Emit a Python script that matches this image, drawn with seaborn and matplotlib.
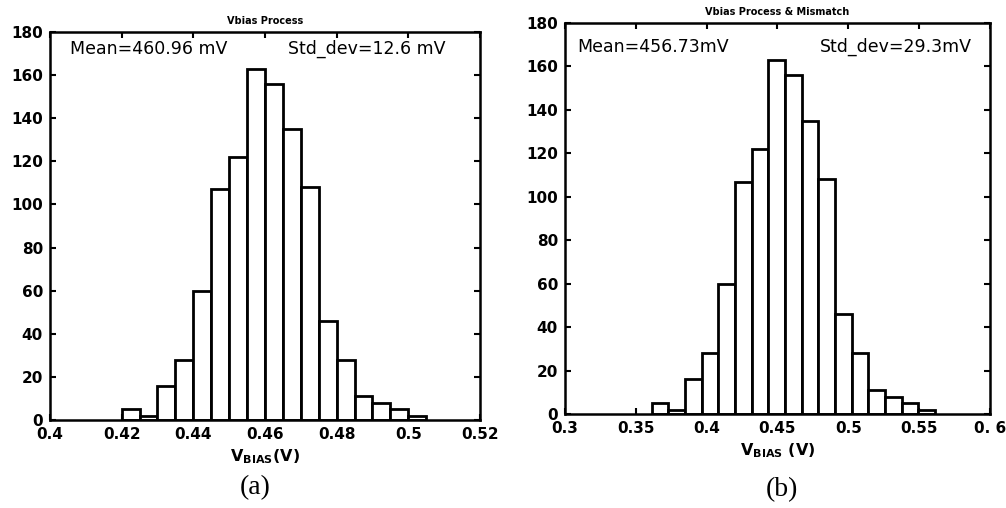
import numpy as np
import pandas as pd
import matplotlib
matplotlib.use("Agg")
import matplotlib.pyplot as plt
import seaborn as sns

# ---- data ----
counts_a = [5, 2, 16, 28, 60, 107, 122, 163, 156, 135, 108, 46, 28, 11, 8, 5, 2]
bin_start_a = 0.420
bin_width_a = 0.005

counts_b = [5, 2, 16, 28, 60, 107, 122, 163, 156, 135, 108, 46, 28, 11, 8, 5, 2]
bin_start_b = 0.3612
bin_width_b = 0.2 / 17

xticks_a = [0.4, 0.42, 0.44, 0.46, 0.48, 0.5, 0.52]
xticklabels_a = ["0.4", "0.42", "0.44", "0.46", "0.48", "0.5", "0.52"]
xticks_b = [0.3, 0.35, 0.4, 0.45, 0.5, 0.55, 0.6]
xticklabels_b = ["0.3", "0.35", "0.4", "0.45", "0.5", "0.55", "0. 6"]
yticks = [0, 20, 40, 60, 80, 100, 120, 140, 160, 180]

title_a = "Vbias Process"
title_b = "Vbias Process & Mismatch"
mean_a = "Mean=460.96 mV"
std_a = "Std_dev=12.6 mV"
mean_b = "Mean=456.73mV"
std_b = "Std_dev=29.3mV"
xlabel_a = r"V$_{\mathrm{BIAS}}$(V)"
xlabel_b = r"V$_{\mathrm{BIAS}}$ (V)"

sns.set_theme(style="white")
plt.rcParams["font.family"] = ["DejaVu Sans"]
plt.rcParams["mathtext.fontset"] = "custom"
plt.rcParams["mathtext.rm"] = "DejaVu Sans:bold"
plt.rcParams["text.color"] = "black"

fig = plt.figure(figsize=(10.06, 5.08), dpi=100)
ax_a = fig.add_axes([0.0497, 0.1732, 0.4274, 0.7638])
ax_b = fig.add_axes([0.5616, 0.185, 0.4225, 0.7697])


def draw(ax, counts, start, width, xlim, xticks, xticklabels, title, mean_t, std_t,
         mean_x, std_x, text_y, xlabel, label_x, label_y, panel):
    n = len(counts)
    edges = [start + width * i for i in range(n + 1)]
    centers = [(edges[i] + edges[i + 1]) / 2 for i in range(n)]
    df = pd.DataFrame({"v": centers, "c": counts})
    sns.histplot(data=df, x="v", weights="c", bins=edges, ax=ax,
                 color="white", edgecolor="black", linewidth=2.0, alpha=1.0)
    ax.set_xlim(*xlim)
    ax.set_ylim(0, 180)
    ax.set_xticks(xticks)
    ax.set_xticklabels(xticklabels)
    ax.set_yticks(yticks)
    ax.tick_params(direction="in", length=4, width=1.5, top=True, right=True,
                   bottom=True, left=True, labelsize=11, colors="black")
    ax.tick_params(axis="x", pad=5)
    ax.tick_params(axis="y", pad=5)
    for lab in ax.get_xticklabels() + ax.get_yticklabels():
        lab.set_fontweight("bold")
    for s in ax.spines.values():
        s.set_linewidth(1.8)
        s.set_color("black")
    ax.set_ylabel("")
    ax.set_xlabel(xlabel, fontsize=11.5, fontweight="bold", labelpad=4, color="black")
    ax.set_title(title, fontsize=7, fontweight="bold", pad=6, color="black")
    ax.text(mean_x, text_y, mean_t, fontsize=12.5, va="center", ha="left", color="black")
    ax.text(std_x, text_y, std_t, fontsize=12.5, va="center", ha="left", color="black")
    ax.text(label_x, label_y, panel, fontsize=20, family="Liberation Serif",
            ha="center", va="center", color="black", transform=ax.transAxes)


draw(ax_a, counts_a, bin_start_a, bin_width_a, (0.4, 0.52), xticks_a, xticklabels_a,
     title_a, mean_a, std_a, 0.4056, 0.4664, 172, xlabel_a, 0.477, -0.173, "(a)")
draw(ax_b, counts_b, bin_start_b, bin_width_b, (0.3, 0.6), xticks_b, xticklabels_b,
     title_b, mean_b, std_b, 0.309, 0.48, 169, xlabel_b, 0.511, -0.194, "(b)")

fig.savefig("out.png", dpi=100)
